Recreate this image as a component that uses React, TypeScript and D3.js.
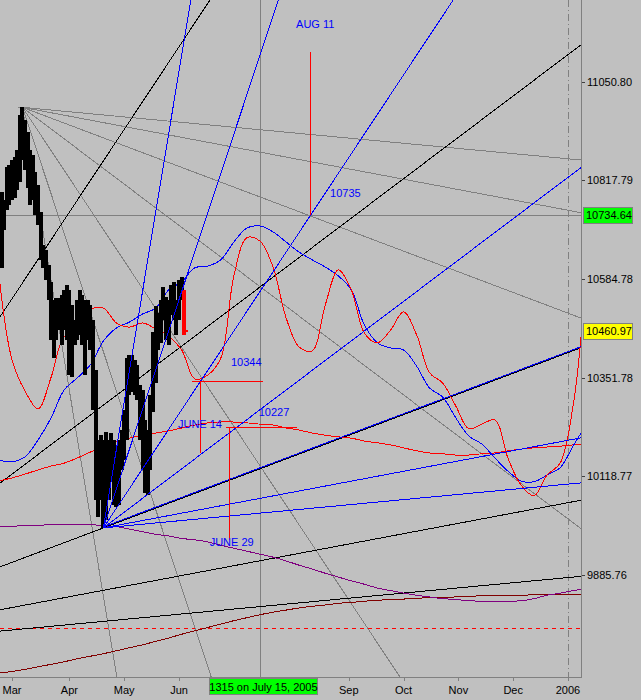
import React from 'react';
import * as d3 from 'd3';

const W = 641;
const H = 700;
const PLOT_R = 581;
const PLOT_B = 677;

// ---------- calendar ----------
const holidays = ['2005-01-17', '2005-02-21', '2005-03-25', '2005-05-30', '2005-07-04', '2005-09-05', '2005-11-24', '2005-12-26', '2006-01-02'];
function buildTradingDays(): string[] {
  const out: string[] = [];
  const fmt = d3.utcFormat('%Y-%m-%d');
  const end = Date.UTC(2006, 2, 1);
  for (let t = Date.UTC(2005, 1, 1); t < end; t += 86400000) {
    const d = new Date(t);
    const wd = d.getUTCDay();
    const s = fmt(d);
    if (wd === 0 || wd === 6 || holidays.includes(s)) continue;
    out.push(s);
  }
  return out;
}
const tradingDays = buildTradingDays();
const baseIdx = tradingDays.indexOf('2005-03-01');
const idx = (s: string) => tradingDays.indexOf(s) - baseIdx;

// ---------- axis ticks ----------
const monthTickDates = ['2005-03-01', '2005-04-01', '2005-05-02', '2005-06-01', '2005-07-01', '2005-08-01', '2005-09-01', '2005-10-03', '2005-11-01', '2005-12-01', '2006-01-03'];
const monthLabels = ['Mar', 'Apr', 'May', 'Jun', '', '', 'Sep', 'Oct', 'Nov', 'Dec', '2006'];
const priceTicks = [11050.8, 10817.79, 10584.78, 10351.78, 10118.77, 9885.76];

// ---------- price bars (daily high / low) ----------
const barStart = '2005-02-23';
const barHigh = [10790, 10771, 10849, 10853, 10866, 10873, 10890, 10972, 10990, 10960, 10931, 10890, 10877, 10837, 10806, 10743, 10665, 10653, 10618, 10578, 10535, 10540, 10540, 10547, 10559, 10570, 10559, 10523, 10488, 10535, 10559, 10547, 10535, 10535, 10523, 10488, 10370, 10205, 10217, 10205, 10223, 10205, 10221, 10205, 10181, 10205, 10228, 10275, 10398, 10405, 10405, 10394, 10382, 10334, 10323, 10252, 10228, 10311, 10460, 10520, 10504, 10535, 10566, 10542, 10535, 10570, 10578, 10535, 10582, 10589, 10559];
const barLow = [10611, 10700, 10748, 10759, 10771, 10776, 10795, 10813, 10866, 10842, 10800, 10759, 10771, 10736, 10712, 10630, 10611, 10582, 10535, 10441, 10398, 10441, 10464, 10429, 10464, 10441, 10358, 10353, 10429, 10441, 10452, 10429, 10358, 10441, 10417, 10275, 10063, 10023, 10063, 9997, 10016, 10063, 10110, 10051, 10046, 10051, 10134, 10157, 10205, 10311, 10318, 10311, 10299, 10205, 10134, 10079, 10074, 10134, 10270, 10340, 10417, 10433, 10488, 10441, 10429, 10500, 10488, 10452, 10488, 10535, 10452];
const lastClose = 10460.97;

// ---------- indicator curves, sampled weekly (trading-day offsets from Mar 1) ----------
const curveSampleIdx = [...d3.range(-5, 216, 5), 218];
const fastRed = [10594, 10394, 10320, 10278, 10353, 10448, 10457, 10512, 10516, 10481, 10471, 10481, 10467, 10450, 10417, 10349, 10358, 10398, 10592, 10682, 10674, 10613, 10493, 10424, 10415, 10523, 10606, 10559, 10457, 10434, 10464, 10507, 10453, 10363, 10339, 10285, 10231, 10242, 10252, 10162, 10098, 10073, 10122, 10150, 10287, 10448];
const blueAvg = [10157, 10153, 10165, 10205, 10257, 10323, 10351, 10382, 10438, 10469, 10483, 10502, 10516, 10559, 10578, 10611, 10615, 10630, 10672, 10705, 10710, 10696, 10672, 10648, 10630, 10613, 10592, 10559, 10476, 10434, 10422, 10417, 10379, 10327, 10306, 10257, 10214, 10195, 10162, 10131, 10108, 10106, 10122, 10139, 10191, 10221];
const slowRed = [10108, 10115, 10124, 10134, 10143, 10150, 10162, 10176, 10188, 10200, 10209, 10216, 10221, 10226, 10233, 10240, 10245, 10247, 10247, 10245, 10242, 10240, 10233, 10228, 10221, 10216, 10212, 10209, 10202, 10198, 10193, 10186, 10179, 10174, 10172, 10169, 10169, 10172, 10174, 10179, 10183, 10186, 10188, 10190, 10193, 10195];
const purpleCurve = [9999, 10001, 10002, 10003, 10005, 10006, 10006, 10005, 10002, 10000, 9994, 9988, 9982, 9978, 9972, 9969, 9964, 9956, 9949, 9942, 9935, 9928, 9919, 9909, 9900, 9890, 9881, 9872, 9864, 9855, 9849, 9843, 9838, 9834, 9830, 9828, 9825, 9824, 9824, 9824, 9825, 9830, 9838, 9843, 9849, 9852];
const maroonCurve = [9654, 9658, 9663, 9669, 9675, 9681, 9688, 9694, 9700, 9707, 9714, 9721, 9729, 9737, 9746, 9754, 9762, 9770, 9778, 9785, 9792, 9798, 9803, 9808, 9812, 9815, 9819, 9821, 9824, 9826, 9828, 9829, 9831, 9832, 9833, 9834, 9835, 9837, 9837, 9838, 9838, 9839, 9839, 9840, 9840, 9841];

// ---------- Gann geometry ----------
const gannUnit = 4.65; // points per trading day for a 1x1 line
const fanRatios = [8, 4, 2, 1, 0.5, 0.25, 0.125];
const peakDate = '2005-03-07';
const peakValue = 10990;
const lowDate = '2005-04-20';
const lowValue = 9997;
const blackLineDates = ['2005-03-01', '2005-03-01', '2005-04-20', '2005-03-01', '2005-03-01'];
const blackLineValues = [10538, 10124, 9997, 9809, 9756];
const blackLineRatios = [2, 1, 0.5, 0.25, 0.125];

// ---------- reference markers ----------
const crossValue = 10734.64;
const crossDate = '2005-07-15';
const dashedValue = 9761;
const yearDate = '2006-01-03';

export default function App() {
  const x = d3.scaleLinear().domain([0, idx('2006-01-03')]).range([12, 568]);
  const y = d3.scaleLinear().domain([9645, 11243.4]).range([PLOT_B, 0]);
  const xd = (s: string) => x(idx(s));

  const seg = (i0: number, v0: number, rate: number, from: number, to: number) =>
    `M${x(from)},${y(v0 + rate * (from - i0))}L${x(to)},${y(v0 + rate * (to - i0))}`;

  const curve = (vals: number[]) =>
    d3.line<number>().x((_, i) => x(curveSampleIdx[i])).y((v) => y(v)).curve(d3.curveCatmullRom)(vals) || '';

  const startBar = tradingDays.indexOf(barStart);
  const bars = barHigh.map((h, i) => ({ d: tradingDays[startBar + i], h, l: barLow[i] }));

  const font = "'Liberation Sans', Arial, sans-serif";
  const pIdx = idx(peakDate);
  const lIdx = idx(lowDate);

  const aug11 = xd('2005-08-11');
  const jun13 = xd('2005-06-13');
  const jun28 = xd('2005-06-28');
  const vx = (s: string) => Math.round(xd(s)) + 0.5;
  const hy = (v: number) => Math.round(y(v)) + 0.5;

  return (
    <svg width={W} height={H} style={{ position: 'absolute', left: 0, top: 0, background: '#c0c0c0' }} fontFamily={font}>
      <defs>
        <clipPath id="plot">
          <rect x={0} y={0} width={PLOT_R} height={PLOT_B} />
        </clipPath>
      </defs>
      <rect x={0} y={0} width={W} height={H} fill="#c0c0c0" />
      <g clipPath="url(#plot)" fill="none" shapeRendering="crispEdges">
        {/* crosshair */}
        <line x1={0} x2={PLOT_R} y1={hy(crossValue)} y2={hy(crossValue)} stroke="#808080" />
        <line x1={vx(crossDate)} x2={vx(crossDate)} y1={0} y2={PLOT_B} stroke="#808080" />
        <line x1={vx(yearDate)} x2={vx(yearDate)} y1={0} y2={PLOT_B} stroke="#808080" strokeDasharray="7,3,1,3" />
        {/* red dashed level */}
        <line x1={0} x2={PLOT_R} y1={hy(dashedValue)} y2={hy(dashedValue)} stroke="#ff0000" strokeDasharray="4,4" />
        {/* gray fan from the high */}
        {fanRatios.map((r, k) => (
          <path key={'g' + k} d={seg(pIdx, peakValue, -r * gannUnit, pIdx, 240)} stroke="#808080" strokeWidth={1} />
        ))}
        <line x1={x(pIdx) - 4} x2={x(pIdx) + 3} y1={hy(peakValue)} y2={hy(peakValue)} stroke="#808080" />
        {/* black Gann lines */}
        {blackLineDates.map((d, k) => (
          <path key={'b' + k} d={seg(idx(d), blackLineValues[k], blackLineRatios[k] * gannUnit, -10, 240)} stroke="#000" strokeWidth={1} />
        ))}
        {/* curves */}
        <path d={curve(maroonCurve)} stroke="#800000" strokeWidth={1} />
        <path d={curve(purpleCurve)} stroke="#800080" strokeWidth={1} />
        <path d={curve(slowRed)} stroke="#ff0000" strokeWidth={1} />
        <path d={curve(blueAvg)} stroke="#0000ff" strokeWidth={1} />
        <path d={curve(fastRed)} stroke="#ff0000" strokeWidth={1} />
        {/* price bars */}
        {bars.map((b, i) => {
          const last = i === bars.length - 1;
          const cx = Math.round(xd(b.d));
          return (
            <g key={'bar' + i}>
              <rect x={cx - 2} y={Math.round(y(b.h))} width={4} height={Math.round(y(b.l)) - Math.round(y(b.h))} fill={last ? '#ff0000' : '#000'} />
              {last && <rect x={cx + 2} y={Math.round(y(lastClose)) - 1} width={2} height={2} fill="#ff0000" />}
            </g>
          );
        })}
        {/* blue fan from the low */}
        {fanRatios.map((r, k) => (
          <path key={'f' + k} d={seg(lIdx, lowValue, r * gannUnit, lIdx, 240)} stroke="#0000ff" strokeWidth={1}
            transform={r === 0.5 ? 'translate(0,-1)' : undefined} />
        ))}
        {/* annotations */}
        <line x1={vx('2005-08-11')} x2={vx('2005-08-11')} y1={y(11120)} y2={y(10735)} stroke="#ff0000" />
        <line x1={xd('2005-06-08')} x2={xd('2005-07-18')} y1={hy(10344)} y2={hy(10344)} stroke="#ff0000" />
        <line x1={vx('2005-06-13')} x2={vx('2005-06-13')} y1={y(10344)} y2={y(10174)} stroke="#ff0000" />
        <line x1={xd('2005-06-27')} x2={xd('2005-08-04')} y1={hy(10235)} y2={hy(10235)} stroke="#ff0000" />
        <line x1={vx('2005-06-28')} x2={vx('2005-06-28')} y1={y(10235)} y2={y(9968)} stroke="#ff0000" />
      </g>
      {/* annotation labels */}
      <g fill="#0000ff" fontSize={11}>
        <text x={aug11 - 13.5} y={y(11177)}>AUG 11</text>
        <text x={aug11 + 20.5} y={y(10778)}>10735</text>
        <text x={jun13 + 31} y={y(10379)}>10344</text>
        <text x={jun13 - 22} y={y(10233)}>JUNE 14</text>
        <text x={jun28 + 30} y={y(10261)}>10227</text>
        <text x={jun28 - 19} y={y(9954)}>JUNE 29</text>
      </g>
      {/* axes frame */}
      <g shapeRendering="crispEdges">
        <line x1={PLOT_R + 0.5} x2={PLOT_R + 0.5} y1={0} y2={PLOT_B + 0.5} stroke="#808080" strokeWidth={1} />
        <line x1={0} x2={PLOT_R + 0.5} y1={PLOT_B + 0.5} y2={PLOT_B + 0.5} stroke="#808080" strokeWidth={1} />
      </g>
      {/* right axis */}
      <g fontSize={11} fill="#000">
        {priceTicks.map((v) => (
          <g key={v}>
            <line x1={PLOT_R + 1} x2={PLOT_R + 4} y1={hy(v)} y2={hy(v)} stroke="#404040" shapeRendering="crispEdges" />
            <text x={PLOT_R + 6} y={y(v) + 4}>{d3.format('.2f')(v)}</text>
          </g>
        ))}
        <rect x={PLOT_R + 2.5} y={Math.round(y(crossValue)) - 7.5} width={49} height={16} fill="#00ff00" stroke="#808080" shapeRendering="crispEdges" />
        <text x={PLOT_R + 5} y={y(crossValue) + 4}>{d3.format('.2f')(crossValue)}</text>
        <rect x={PLOT_R + 2.5} y={Math.round(y(lastClose)) - 7.5} width={49} height={16} fill="#ffff00" stroke="#808080" shapeRendering="crispEdges" />
        <text x={PLOT_R + 5} y={y(lastClose) + 4}>{d3.format('.2f')(lastClose)}</text>
      </g>
      {/* bottom axis */}
      <g fontSize={11} fill="#000">
        {monthTickDates.map((d, i) => (
          <g key={d}>
            <line x1={vx(d)} x2={vx(d)} y1={PLOT_B + 1} y2={PLOT_B + 4} stroke="#808080" shapeRendering="crispEdges" />
            {monthLabels[i] && <text x={xd(d)} y={694} textAnchor="middle">{monthLabels[i]}</text>}
          </g>
        ))}
        <rect x={209.5} y={678.5} width={108} height={16} fill="#00ff00" stroke="#808080" shapeRendering="crispEdges" />
        <text x={xd(crossDate) + 3.5} y={691} textAnchor="middle">1315 on July 15, 2005</text>
      </g>
    </svg>
  );
}
